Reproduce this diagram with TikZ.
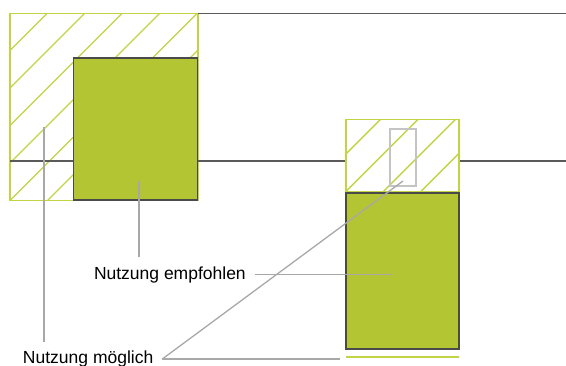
\documentclass[tikz,border=0pt]{standalone}
\usepackage{fontspec}
\setmainfont{Liberation Sans}
\usetikzlibrary{positioning}
\definecolor{leaf}{HTML}{B4C533}
\definecolor{leafline}{HTML}{C2D444}
\definecolor{wallgray}{HTML}{5A5A5A}
\definecolor{edgegray}{HTML}{4A4A4A}
\definecolor{leadgray}{HTML}{A8A8A8}
\definecolor{slotgray}{HTML}{C4C4C4}
\tikzset{
  wall/.style={draw=wallgray,line width=1.5pt},
  freezone/.style={draw=leafline,line width=1.6pt,inner sep=0pt,
                   path picture={
                     \foreach \k in {-6,...,6}
                       \draw[leafline,line width=1.4pt]
                         ([xshift=\k*37.5pt]path picture bounding box.south west) -- ++(260pt,260pt);
                   }},
  usezone/.style={draw=edgegray,fill=leaf,line width=1.5pt,inner sep=0pt},
  slotbox/.style={draw=slotgray,line width=1.2pt,inner sep=0pt},
  sill/.style={draw=leafline,line width=1.6pt,inner sep=0pt,minimum height=0pt},
  tag/.style={font=\fontsize{17.5}{20}\selectfont,inner sep=0pt,outer sep=9pt},
  leader/.style={draw=leadgray,line width=1.3pt}
}
\begin{document}
\begin{tikzpicture}[x=1pt,y=-1pt]
  \useasboundingbox (0,0) rectangle (566,365);

  % ground plan walls
  \coordinate (topEnd) at (566,13);
  \coordinate (midStart) at (10,161);
  \coordinate (midEnd) at (566,161);

  % left zone
  \node[freezone,minimum width=188pt,minimum height=187pt,outer sep=0pt] (freeL) at (104,107) {};
  \node[usezone,minimum width=124pt,minimum height=142pt,anchor=south east] (useL) at (freeL.south east) {};

  % right zone
  \node[usezone,minimum width=113pt,minimum height=156pt] (useR) at (402.5,271) {};
  \node[freezone,minimum width=113pt,minimum height=72pt,above=0pt of useR] (freeR) {};
  \node[slotbox,minimum width=26pt,minimum height=57pt] (slotR) at (403,157.5) {};
  \node[sill,minimum width=113pt] (sillR) at (402.5,357) {};

  \draw[wall] (freeL.north east) -- (freeL.north east -| topEnd);
  \draw[wall] (midStart) -- (midStart -| useL.west);
  \draw[wall] (midStart -| useL.east) -- (midStart -| freeR.west);
  \draw[wall] (midStart -| freeR.east) -- (midEnd);

  % labels
  \node[tag,anchor=base west] (empf) at (85,279) {Nutzung empfohlen};
  \node[tag,anchor=base west] (mogl) at (14,363.5) {Nutzung möglich};

  \coordinate (tipUseL) at (139,181);
  \coordinate (tipUseR) at (392,273);
  \coordinate (tipFreeL) at (44,127);
  \coordinate (tipSlot) at (403,181);

  \draw[leader] (tipUseL |- empf.north) -- (tipUseL);
  \draw[leader] (empf.east) -- (empf.east -| tipUseR);
  \draw[leader] (tipFreeL |- mogl.north) -- (tipFreeL);
  \draw[leader] (mogl.east) -- (tipSlot);
  \draw[leader,shorten >=5pt] (mogl.east) -- (mogl.east -| sillR.west);
\end{tikzpicture}
\end{document}
